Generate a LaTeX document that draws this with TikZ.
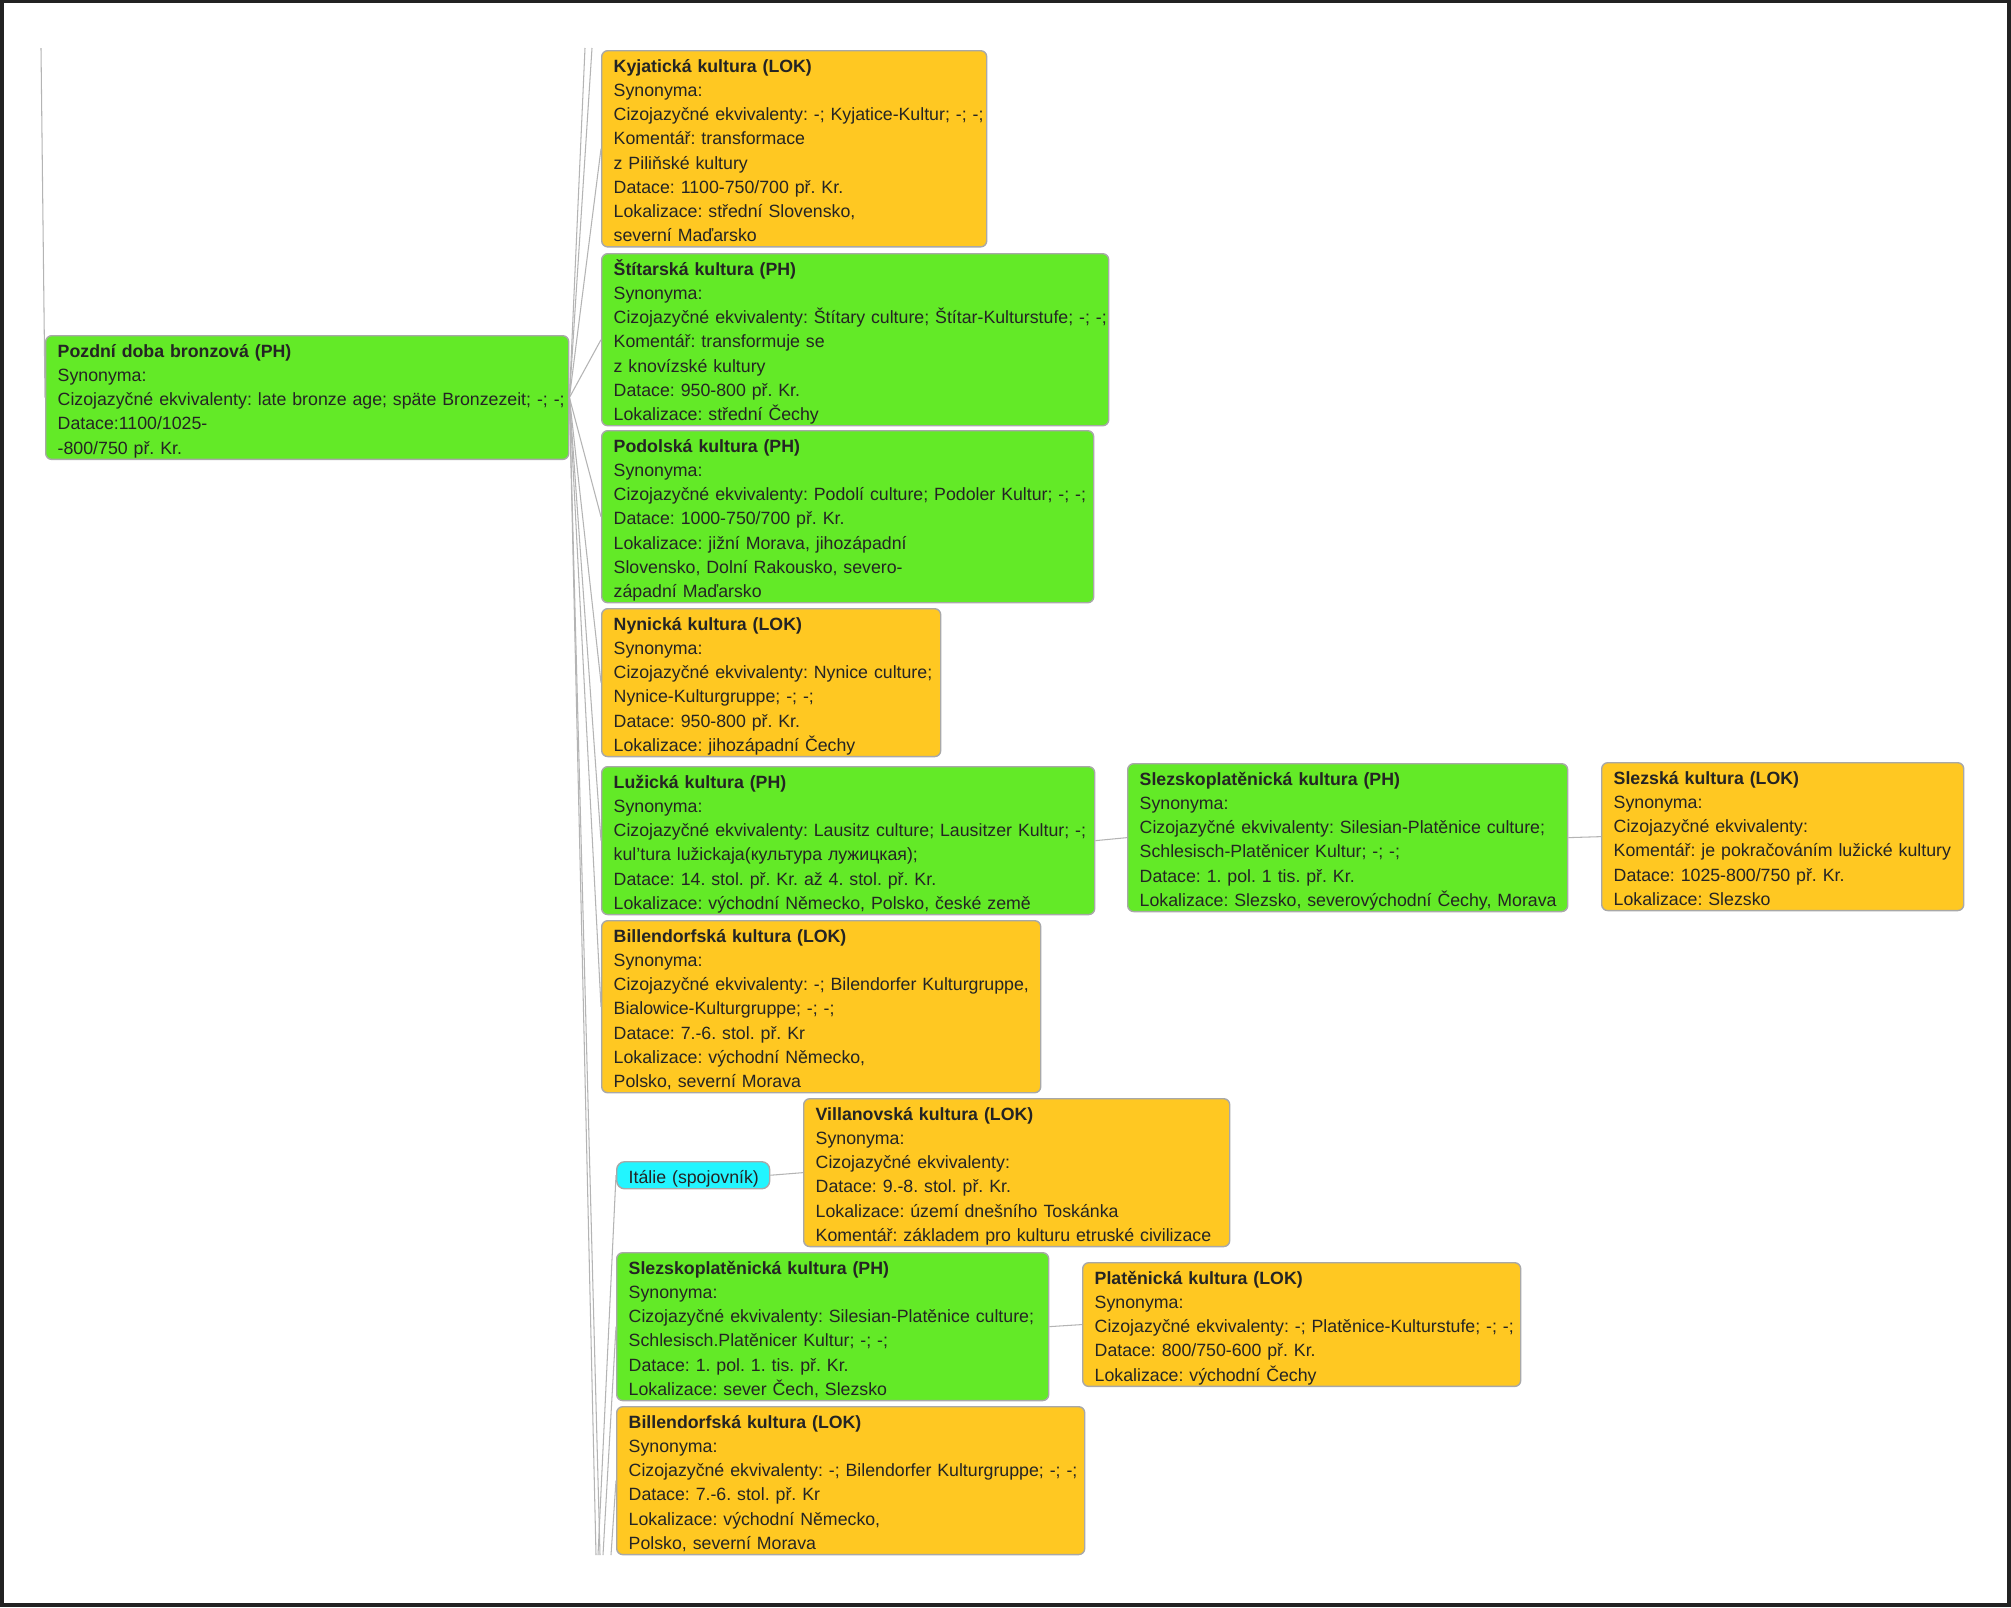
\documentclass[tikz,border=0pt]{standalone}
\usepackage{fontspec}
\setmainfont{Liberation Sans}
\usepackage{tikz}
\usepackage{xcolor}
\definecolor{phgreen}{HTML}{63EA27}
\definecolor{lokyellow}{HTML}{FFC822}
\definecolor{hubcyan}{HTML}{22F5FF}
\definecolor{boxgray}{HTML}{A8A8A8}
\definecolor{edgegray}{HTML}{B4B4B4}
\definecolor{inkgray}{HTML}{242424}
\definecolor{framedark}{HTML}{222222}
\newcommand{\topstrut}{\rule{0pt}{12.4pt}}
\newcommand{\botstrut}{\rule[-3pt]{0pt}{3pt}}
\newcommand{\cardfont}{\fontsize{10.1}{13.75}\selectfont\frenchspacing}

\begin{document}
\begin{tikzpicture}[x=0.02cm, y=-0.02cm,
  card/.style={draw=boxgray, line width=0.8pt, rounded corners=0.12cm, anchor=north west,
    inner sep=0pt, align=left, text=inkgray, font=\cardfont, text width=#1*0.02cm,
    execute at begin node={\leftskip=0.24cm\rightskip=-0.6cm plus 1fil\topstrut},
    execute at end node={\botstrut}},
  ph/.style={card=#1, fill=phgreen},
  lok/.style={card=#1, fill=lokyellow},
  hub/.style={card=#1, fill=hubcyan, rounded corners=0.16cm},
  link/.style={draw=edgegray, line width=0.6pt}]
\useasboundingbox (0,0) rectangle (2011,1607);
\fill[framedark] (0,0) rectangle (2011,1607);
\fill[white] (4,3) rectangle (2007,1603);

\node[ph=523] (root) at (45,335) {\textbf{Pozdní doba bronzová (PH)}\\ Synonyma:\\ Cizojazyčné ekvivalenty: late bronze age; späte Bronzezeit; -; -;\\ Datace:1100/1025-\\ -800/750 př. Kr.};

\node[lok=385] (kyj) at (601,50) {\textbf{Kyjatická kultura (LOK)}\\ Synonyma:\\ Cizojazyčné ekvivalenty: -; Kyjatice-Kultur; -; -;\\ Komentář: transformace\\ z Piliňské kultury\\ Datace: 1100-750/700 př. Kr.\\ Lokalizace: střední Slovensko,\\ severní Maďarsko};
\node[ph=507] (stit) at (601,253) {\textbf{Štítarská kultura (PH)}\\ Synonyma:\\ Cizojazyčné ekvivalenty: Štítary culture; Štítar-Kulturstufe; -; -;\\ Komentář: transformuje se\\ z knovízské kultury\\ Datace: 950-800 př. Kr.\\ Lokalizace: střední Čechy};
\node[ph=492] (pod) at (601,430) {\textbf{Podolská kultura (PH)}\\ Synonyma:\\ Cizojazyčné ekvivalenty: Podolí culture; Podoler Kultur; -; -;\\ Datace: 1000-750/700 př. Kr.\\ Lokalizace: jižní Morava, jihozápadní\\ Slovensko, Dolní Rakousko, severo-\\ západní Maďarsko};
\node[lok=339] (nyn) at (601,608) {\textbf{Nynická kultura (LOK)}\\ Synonyma:\\ Cizojazyčné ekvivalenty: Nynice culture;\\ Nynice-Kulturgruppe; -; -;\\ Datace: 950-800 př. Kr.\\ Lokalizace: jihozápadní Čechy};
\node[ph=493] (luz) at (601,766) {\textbf{Lužická kultura (PH)}\\ Synonyma:\\ Cizojazyčné ekvivalenty: Lausitz culture; Lausitzer Kultur; -;\\ kul'tura lužickaja(культура лужицкая);\\ Datace: 14. stol. př. Kr. až 4. stol. př. Kr.\\ Lokalizace: východní Německo, Polsko, české země};
\node[ph=440] (slpl) at (1127,763) {\textbf{Slezskoplatěnická kultura (PH)}\\ Synonyma:\\ Cizojazyčné ekvivalenty: Silesian-Platěnice culture;\\ Schlesisch-Platěnicer Kultur; -; -;\\ Datace: 1. pol. 1 tis. př. Kr.\\ Lokalizace: Slezsko, severovýchodní Čechy, Morava};
\node[lok=362] (slez) at (1601,762) {\textbf{Slezská kultura (LOK)}\\ Synonyma:\\ Cizojazyčné ekvivalenty:\\ Komentář: je pokračováním lužické kultury\\ Datace: 1025-800/750 př. Kr.\\ Lokalizace: Slezsko};
\node[lok=439] (bil) at (601,920) {\textbf{Billendorfská kultura (LOK)}\\ Synonyma:\\ Cizojazyčné ekvivalenty: -; Bilendorfer Kulturgruppe,\\ Bialowice-Kulturgruppe; -; -;\\ Datace: 7.-6. stol. př. Kr\\ Lokalizace: východní Německo,\\ Polsko, severní Morava};

\node[hub=153] (ital) at (616,1161) {Itálie (spojovník)};
\node[lok=426] (vil) at (803,1098) {\textbf{Villanovská kultura (LOK)}\\ Synonyma:\\ Cizojazyčné ekvivalenty:\\ Datace: 9.-8. stol. př. Kr.\\ Lokalizace: území dnešního Toskánka\\ Komentář: základem pro kulturu etruské civilizace};
\node[ph=432] (slpl2) at (616,1252) {\textbf{Slezskoplatěnická kultura (PH)}\\ Synonyma:\\ Cizojazyčné ekvivalenty: Silesian-Platěnice culture;\\ Schlesisch.Platěnicer Kultur; -; -;\\ Datace: 1. pol. 1. tis. př. Kr.\\ Lokalizace: sever Čech, Slezsko};
\node[lok=438] (plat) at (1082,1262) {\textbf{Platěnická kultura (LOK)}\\ Synonyma:\\ Cizojazyčné ekvivalenty: -; Platěnice-Kulturstufe; -; -;\\ Datace: 800/750-600 př. Kr.\\ Lokalizace: východní Čechy};
\node[lok=468] (bil2) at (616,1406) {\textbf{Billendorfská kultura (LOK)}\\ Synonyma:\\ Cizojazyčné ekvivalenty: -; Bilendorfer Kulturgruppe; -; -;\\ Datace: 7.-6. stol. př. Kr\\ Lokalizace: východní Německo,\\ Polsko, severní Morava};

\coordinate (above) at (41,48);
\coordinate (up1) at (585,48);
\coordinate (up2) at (592,48);
\coordinate (down1) at (596,1555);
\coordinate (down2) at (600,1555);
\coordinate (down3) at (598,1555);
\coordinate (down4) at (603,1555);
\coordinate (down5) at (611,1555);

\draw[link] (above) -- (root.west);
\foreach \c in {up1,up2,down1,down2}
  \draw[link] (root.east) -- (\c);
\foreach \c in {kyj,stit,pod,nyn,luz,bil}
  \draw[link] (root.east) -- (\c.west);
\draw[link] (luz.east) -- (slpl.west);
\draw[link] (slpl.east) -- (slez.west);
\draw[link] (ital.east) -- (vil.west);
\draw[link] (slpl2.east) -- (plat.west);
\draw[link] (ital.west) -- (down3);
\draw[link] (slpl2.west) -- (down4);
\draw[link] (bil2.west) -- (down5);
\end{tikzpicture}
\end{document}
